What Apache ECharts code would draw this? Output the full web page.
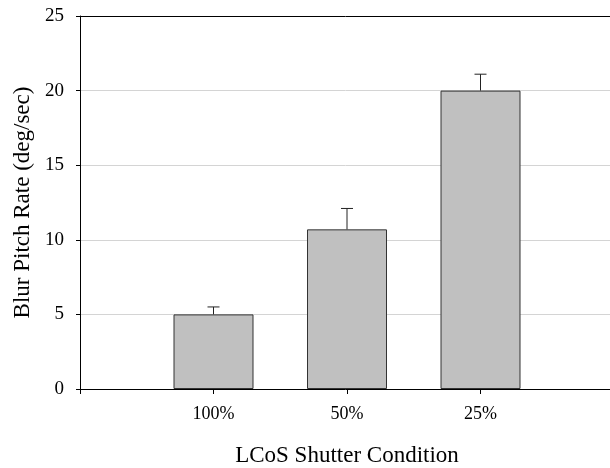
<!DOCTYPE html>
<html>
<head>
<meta charset="utf-8">
<script src="https://cdn.jsdelivr.net/npm/echarts@6/dist/echarts.min.js"></script>
<style>
  html, body { margin: 0; padding: 0; background: #fff; }
  #chart { width: 610px; height: 468px; }
</style>
</head>
<body>
<div id="chart"></div>
<script>
// shutter conditions, in drawing order
const conditions = ['100%', '50%', '25%']
// mean blur pitch rate (deg/sec)
const meanRate = [5.0, 10.7, 20.0]
// upper end of the error bar
const upperErr = [5.5, 12.1, 21.1]
const yTicks = [0, 5, 10, 15, 20, 25]

const font = 'Liberation Serif, Times New Roman, serif'

let myChart = echarts.init(document.getElementById('chart'))

// bars sit on x = 1, 2, 3 of a 0..4 value axis
const barData = conditions.map((c, i) => [i + 1, meanRate[i]])
const errData = conditions.map((c, i) => [i + 1, meanRate[i], upperErr[i]])

const option = {
  animation: false,
  grid: { left: 80, right: -4, top: 16, bottom: 79, containLabel: false, outerBoundsMode: 'none' },
  xAxis: {
    type: 'value',
    min: 0,
    max: conditions.length + 1,
    interval: 1,
    name: 'LCoS Shutter Condition',
    nameLocation: 'middle',
    nameGap: 55,
    nameTextStyle: { fontFamily: font, fontSize: 23, color: '#000' },
    axisLine: { lineStyle: { color: '#000', width: 1 } },
    axisTick: { show: true, length: 5, lineStyle: { color: '#000' } },
    axisLabel: {
      fontFamily: font,
      fontSize: 18,
      color: '#000',
      margin: 16,
      formatter: function (v) {
        return conditions[v - 1] || ''
      }
    },
    splitLine: { show: false }
  },
  yAxis: {
    type: 'value',
    min: yTicks[0],
    max: yTicks[yTicks.length - 1],
    interval: 5,
    name: 'Blur Pitch Rate (deg/sec)',
    nameLocation: 'middle',
    nameGap: 45,
    nameTextStyle: { fontFamily: font, fontSize: 23, color: '#000' },
    axisLine: { show: true, lineStyle: { color: '#000', width: 1 } },
    axisTick: { show: true, length: 4, lineStyle: { color: '#000' } },
    axisLabel: { fontFamily: font, fontSize: 19, color: '#000', margin: 16 },
    splitLine: {
      show: true,
      // the top line at 25 is the black frame line
      lineStyle: { color: yTicks.map((t, i) => i === yTicks.length - 1 ? '#000' : '#d4d4d4'), width: 1 }
    }
  },
  series: [
    {
      type: 'bar',
      data: barData,
      barWidth: 80,
      itemStyle: { color: '#c0c0c0', borderColor: '#333', borderWidth: 1 }
    },
    {
      type: 'custom',
      data: errData,
      z: 3,
      renderItem: function (params, api) {
        const x = api.value(0)
        const base = api.coord([x, api.value(1)])
        const top = api.coord([x, api.value(2)])
        const style = { stroke: '#222', lineWidth: 1 }
        return {
          type: 'group',
          children: [
            { type: 'line', shape: { x1: base[0], y1: base[1], x2: top[0], y2: top[1] }, style: style },
            { type: 'line', shape: { x1: top[0] - 6, y1: top[1], x2: top[0] + 6, y2: top[1] }, style: style }
          ]
        }
      }
    }
  ]
}
myChart.setOption(option)
</script>
</body>
</html>
